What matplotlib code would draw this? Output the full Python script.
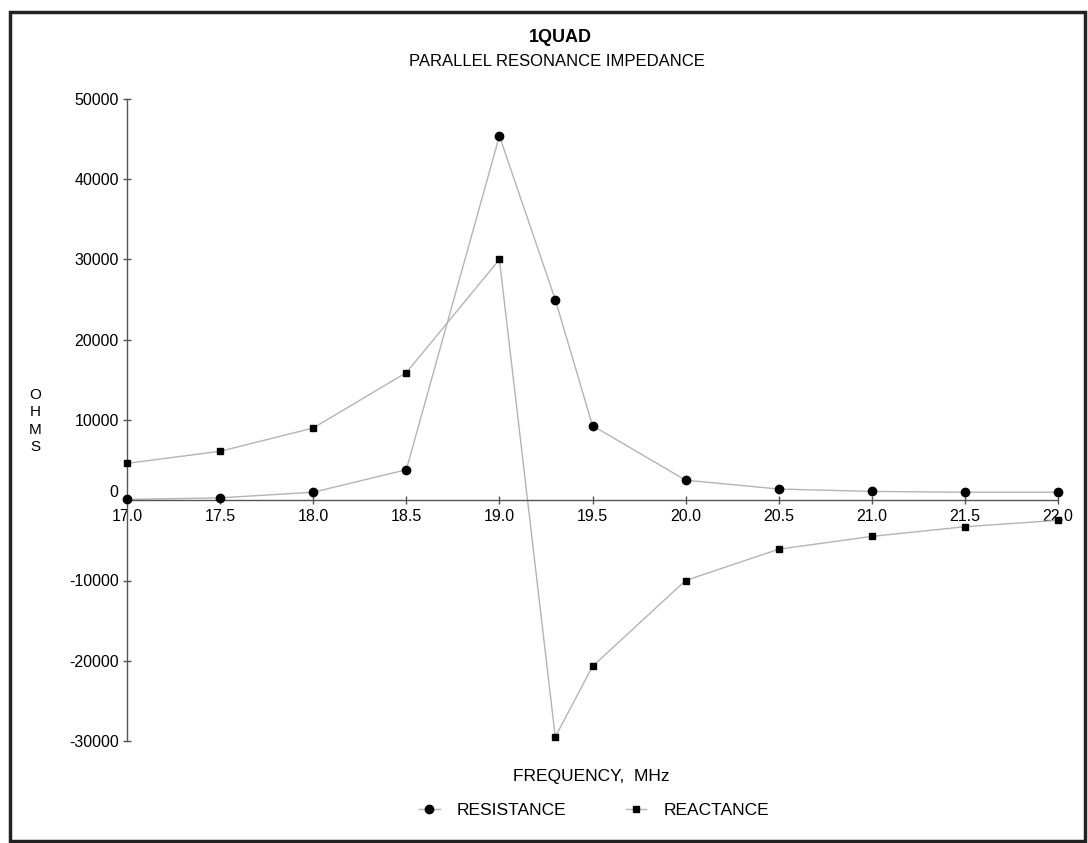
"""1QUAD parallel resonance impedance: resistance and reactance vs frequency."""

import matplotlib

matplotlib.use("Agg")
import matplotlib.pyplot as plt
from matplotlib.lines import Line2D
from matplotlib.patches import Rectangle

FREQ_MHZ = [17.0, 17.5, 18.0, 18.5, 19.0, 19.3, 19.5, 20.0, 20.5, 21.0, 21.5, 22.0]
RESISTANCE = [100, 300, 1000, 3800, 45400, 25000, 9300, 2500, 1400, 1100, 1000, 1000]
REACTANCE = [4600, 6100, 9000, 15900, 30000, -29500, -20700, -10000, -6100, -4500, -3300, -2500]

X_TICKS = [17.0, 17.5, 18.0, 18.5, 19.0, 19.5, 20.0, 20.5, 21.0, 21.5, 22.0]
Y_TICKS = [-30000, -20000, -10000, 0, 10000, 20000, 30000, 40000, 50000]

plt.rcParams["font.family"] = ["Liberation Sans", "DejaVu Sans"]
LINE_KW = dict(color="#b4b4b4", linewidth=1.0, zorder=2)
AXIS_GRAY = "#555555"

fig = plt.figure(figsize=(10.88, 8.43), dpi=100)
ax = fig.add_axes([127 / 1088, 1 - 741 / 843, (1058 - 127) / 1088, (741 - 99) / 843])

ax.plot(FREQ_MHZ, RESISTANCE, **LINE_KW)
ax.plot(FREQ_MHZ, REACTANCE, **LINE_KW)
ax.plot(FREQ_MHZ, RESISTANCE, "o", color="black", markersize=6, zorder=3, clip_on=False)
ax.plot(FREQ_MHZ, REACTANCE, "s", color="black", markersize=5, zorder=3, clip_on=False)

ax.set_xlim(17.0, 22.0)
ax.set_ylim(-30000, 50000)
ax.set_xticks(X_TICKS, [f"{v:.1f}" for v in X_TICKS])
ax.set_yticks(Y_TICKS, [str(v) for v in Y_TICKS])

ax.spines["top"].set_visible(False)
ax.spines["right"].set_visible(False)
ax.spines["bottom"].set_position(("data", 0))
for side in ("left", "bottom"):
    ax.spines[side].set_color(AXIS_GRAY)
    ax.spines[side].set_linewidth(1.0)
ax.tick_params(axis="x", direction="inout", length=6, width=1, color=AXIS_GRAY,
               pad=3, labelsize=11.5)
ax.tick_params(axis="y", direction="inout", length=6, width=1, color=AXIS_GRAY,
               pad=3, labelsize=11.5)

fig.text(560 / 1088, 1 - 38 / 843, "1QUAD", ha="center", va="center",
         fontsize=13, fontweight="bold")
fig.text(557 / 1088, 1 - 62 / 843, "PARALLEL RESONANCE IMPEDANCE", ha="center",
         va="center", fontsize=12)
fig.text(35 / 1088, 1 - 421 / 843, "O\nH\nM\nS", ha="center", va="center",
         fontsize=11, linespacing=1.3)
fig.text(591 / 1088, 1 - 776 / 843, "FREQUENCY,  MHz", ha="center", va="center",
         fontsize=12.5)

handles = [
    Line2D([0], [0], color="#b4b4b4", marker="o", markersize=6,
           markerfacecolor="black", markeredgecolor="black", linewidth=1),
    Line2D([0], [0], color="#b4b4b4", marker="s", markersize=5,
           markerfacecolor="black", markeredgecolor="black", linewidth=1),
]
fig.legend(handles, ["RESISTANCE", "REACTANCE"], loc="center",
           bbox_to_anchor=(594 / 1088, 1 - 810 / 843), ncol=2, frameon=False,
           fontsize=12.5, handlelength=1.2, columnspacing=3.4, handletextpad=1.0)

fig.add_artist(Rectangle((10 / 1088, 2 / 843), 1075 / 1088, (831 - 2) / 843,
                         transform=fig.transFigure, fill=False,
                         edgecolor="#222222", linewidth=2.5))

# lift the "0" label a touch so it clears the 17.0 below it
fig.canvas.draw()
ax.get_yticklabels()[3].set_verticalalignment("bottom")

fig.savefig("out.png", dpi=100, facecolor="white")
